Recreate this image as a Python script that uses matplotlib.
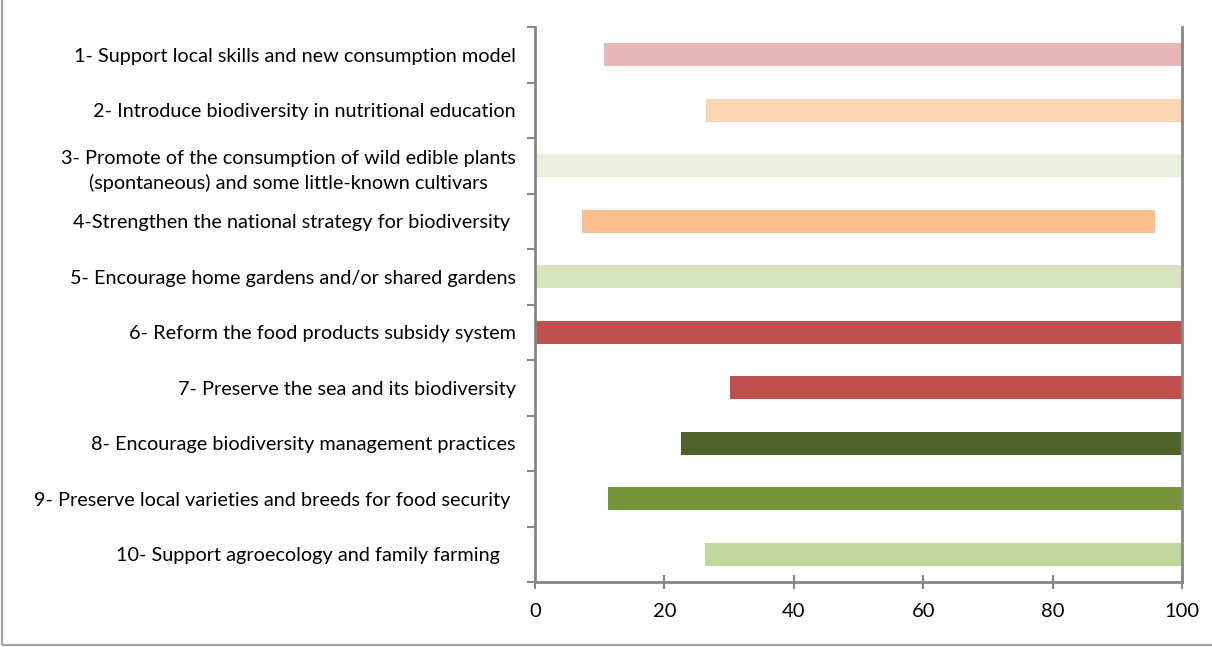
import matplotlib.pyplot as plt
from matplotlib.patches import Rectangle

labels = [
    "1- Support local skills and new consumption model",
    "2- Introduce biodiversity in nutritional education",
    "3- Promote of the consumption of wild edible plants\n(spontaneous) and some little-known cultivars",
    "4-Strengthen the national strategy for biodiversity ",
    "5- Encourage home gardens and/or shared gardens",
    "6- Reform the food products subsidy system",
    "7- Preserve the sea and its biodiversity",
    "8- Encourage biodiversity management practices",
    "9- Preserve local varieties and breeds for food security ",
    "10- Support agroecology and family farming   ",
]
starts = [10.7, 26.5, 0, 7.3, 0, 0, 30.2, 22.5, 11.3, 26.3]
ends = [100, 100.2, 100, 95.8, 100, 100, 100, 100, 100, 100]
colors = ["#E6B9B8", "#FCD5B5", "#EBF1DE", "#FAC090", "#D7E4BD",
          "#C0504D", "#C0504D", "#4F6228", "#77933C", "#C3D69B"]

plt.rcParams['font.family'] = ['Lato', 'DejaVu Sans']
axis_color = '#868686'

fig = plt.figure(figsize=(12.12, 6.47), dpi=100)
ax = fig.add_axes([535 / 1212, 1 - 582 / 647, (1182 - 535) / 1212, 555 / 647])

n = len(labels)
ypos = list(range(n))
widths = [e - s for s, e in zip(starts, ends)]
ax.barh(ypos, widths, left=starts, height=0.41, color=colors, zorder=2)

ax.set_xlim(0, 100)
ax.set_ylim(n - 0.5, -0.5)
ax.set_xticks([0, 20, 40, 60, 80, 100])
ax.set_yticks(ypos)
ax.set_yticklabels(labels, fontsize=14.3, multialignment='center', linespacing=1.45)
ax.set_yticks([i + 0.5 for i in range(-1, n)], minor=True)
ax.tick_params(axis='y', which='major', length=0, pad=14)
ax.tick_params(axis='y', which='minor', length=6, width=1.5, color=axis_color, direction='out')
ax.tick_params(axis='x', length=10, width=1.5, color=axis_color, direction='inout', labelsize=14.5, pad=10)

for side in ['left', 'bottom', 'right']:
    ax.spines[side].set_color(axis_color)
    ax.spines[side].set_linewidth(2)
ax.spines['top'].set_visible(False)

fig.patches.append(Rectangle((2 / 1212, 2 / 647), 1.2, 1.2, transform=fig.transFigure,
                             fill=False, edgecolor='#A0A0A0', linewidth=1.5))

fig.savefig('out.png', dpi=100)
